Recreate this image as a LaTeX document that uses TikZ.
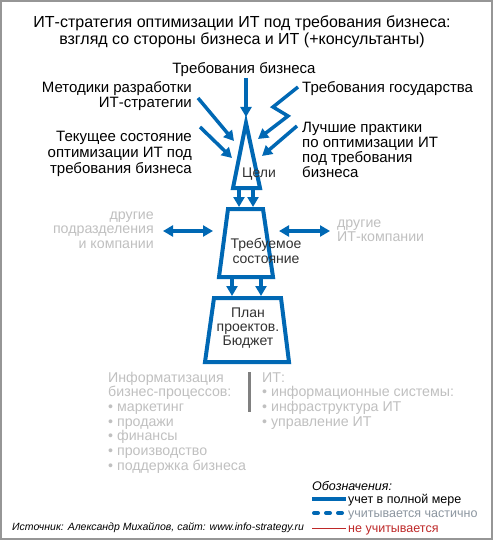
\documentclass[tikz,border=0pt]{standalone}
\usepackage{fontspec}
\setmainfont{Liberation Sans}
\usetikzlibrary{arrows.meta}
\definecolor{cblue}{RGB}{0,104,180}
\definecolor{cgray}{RGB}{192,192,192}
\definecolor{cbar}{RGB}{128,128,128}
\definecolor{cdark}{RGB}{50,50,50}
\definecolor{cred}{RGB}{190,40,40}
\definecolor{cleg}{RGB}{140,150,160}
\definecolor{cframe}{RGB}{150,150,150}
\begin{document}
\begin{tikzpicture}[x=1pt,y=-1pt,
  lbl/.style={inner sep=0pt, font=\fontsize{15}{16}\selectfont},
  ttl/.style={inner sep=0pt, font=\fontsize{16}{17}\selectfont},
  inb/.style={inner sep=0pt, text=cdark, font=\fontsize{14}{15}\selectfont},
  gry/.style={inner sep=0pt, text=cgray, font=\fontsize{14.2}{15}\selectfont},
  leg/.style={inner sep=0pt, font=\fontsize{12.5}{14}\selectfont},
  src/.style={inner sep=0pt, font=\fontsize{10.5}{12}\selectfont\itshape},
  arr/.style={draw=cblue, line width=3.5pt, -{Triangle[length=10pt,width=11pt]}},
  darr/.style={draw=cblue, line width=3.5pt, {Triangle[length=10pt,width=11pt]}-{Triangle[length=10pt,width=11pt]}},
  shp/.style={draw=cblue, line width=4pt, line join=miter},
  frm/.style={draw=cframe, line width=2pt}
]
\useasboundingbox (0,0) rectangle (493,540);
\fill[white] (0,0) rectangle (493,540);
\draw[frm] (1,1) rectangle (492,539);

% title
\node[ttl, anchor=base] (title1) at (242,27.5) {ИТ-стратегия оптимизации ИТ под требования бизнеса:};
\node[ttl, anchor=base] (title2) at (242,44.5) {взгляд со стороны бизнеса и ИТ (+консультанты)};

% shapes coordinates
\coordinate (ta) at (246,123);
\coordinate (tl) at (233,188);
\coordinate (tr) at (260,188);
\coordinate (p1tl) at (228,209);
\coordinate (p1tr) at (263,209);
\coordinate (p1br) at (273,277);
\coordinate (p1bl) at (219,277);
\coordinate (p2tl) at (214,298);
\coordinate (p2tr) at (281,298);
\coordinate (p2br) at (289,362);
\coordinate (p2bl) at (205,362);

\draw[shp] (ta) -- (tr) -- (tl) -- cycle;
\draw[shp] (p1tl) -- (p1tr) -- (p1br) -- (p1bl) -- cycle;
\draw[shp] (p2tl) -- (p2tr) -- (p2br) -- (p2bl) -- cycle;

% inner texts
\node[inb, anchor=base] (goal) at (259,178) {Цели};
\node[inb, anchor=base] (req1) at (266,248) {Требуемое};
\node[inb, anchor=base] (req2) at (266,263) {состояние};
\node[inb, anchor=base] (plan1) at (248,317) {План};
\node[inb, anchor=base] (plan2) at (248,331) {проектов.};
\node[inb, anchor=base] (plan3) at (248,345) {Бюджет};

% top labels
\node[lbl, anchor=base] (rb) at (244,74) {Требования бизнеса};
\node[lbl, anchor=base east] (m1) at (192,93) {Методики разработки};
\node[lbl, anchor=base east] (m2) at (192,108) {ИТ-стратегии};
\node[lbl, anchor=base west] (g1) at (302,93) {Требования государства};
\node[lbl, anchor=base east] (c1) at (192,142) {Текущее состояние};
\node[lbl, anchor=base east] (c2) at (192,157.5) {оптимизации ИТ под};
\node[lbl, anchor=base east] (c3) at (192,173) {требования бизнеса};
\node[lbl, anchor=base west] (b1) at (302,133) {Лучшие практики};
\node[lbl, anchor=base west] (b2) at (302,148) {по оптимизации ИТ};
\node[lbl, anchor=base west] (b3) at (302,163) {под требования};
\node[lbl, anchor=base west] (b4) at (302,178) {бизнеса};

% input arrows
\coordinate (a1s) at (246,78);  \coordinate (a1e) at (246,117);
\coordinate (a2s) at (198,98);  \coordinate (a2e) at (234,141);
\coordinate (a3s) at (200,127); \coordinate (a3e) at (232,158);
\coordinate (g0) at (298,87); \coordinate (gz1) at (273,107); \coordinate (gz2) at (288,116); \coordinate (g3) at (258,139);
\coordinate (a5s) at (297,126); \coordinate (a5e) at (262,156);
\draw[arr] (a1s) -- (a1e);
\draw[arr] (a2s) -- (a2e);
\draw[arr] (a3s) -- (a3e);
\draw[arr] (g0) -- (gz1) -- (gz2) -- (g3);
\draw[arr] (a5s) -- (a5e);

% arrows between shapes
\coordinate (d1s) at (239,188); \coordinate (d1e) at (239,207);
\coordinate (d2s) at (253,188); \coordinate (d2e) at (253,207);
\coordinate (d3s) at (232,277); \coordinate (d3e) at (232,296);
\coordinate (d4s) at (261,277); \coordinate (d4e) at (261,296);
\draw[arr] (d1s) -- (d1e);
\draw[arr] (d2s) -- (d2e);
\draw[arr] (d3s) -- (d3e);
\draw[arr] (d4s) -- (d4e);

% side double arrows
\coordinate (hl1) at (163,231); \coordinate (hl2) at (213,231);
\coordinate (hr1) at (279,231); \coordinate (hr2) at (330,231);
\draw[darr] (hl1) -- (hl2);
\draw[darr] (hr1) -- (hr2);

% side gray texts
\node[gry, anchor=base east] (o1) at (154,219) {другие};
\node[gry, anchor=base east] (o2) at (154,233.5) {подразделения};
\node[gry, anchor=base east] (o3) at (154,248) {и компании};
\node[gry, anchor=base west] (i1) at (337,227) {другие};
\node[gry, anchor=base west] (i2) at (337,241.5) {ИТ-компании};

% bottom lists
\node[gry, anchor=base west] (l1) at (108,382) {Информатизация};
\node[gry, anchor=base west] (l2) at (108,396.7) {бизнес-процессов:};
\node[gry, anchor=base west] (l3) at (108,411.4) {• маркетинг};
\node[gry, anchor=base west] (l4) at (108,426.1) {• продажи};
\node[gry, anchor=base west] (l5) at (108,440.8) {• финансы};
\node[gry, anchor=base west] (l6) at (108,455.5) {• производство};
\node[gry, anchor=base west] (l7) at (108,470.2) {• поддержка бизнеса};
\coordinate (bar1) at (249,372); \coordinate (bar2) at (249,412);
\draw[draw=cbar, line width=3pt] (bar1) -- (bar2);
\node[gry, anchor=base west] (r1) at (262,382) {ИТ:};
\node[gry, anchor=base west] (r2) at (262,396.7) {• информационные системы:};
\node[gry, anchor=base west] (r3) at (262,411.4) {• инфраструктура ИТ};
\node[gry, anchor=base west] (r4) at (262,426.1) {• управление ИТ};

% legend
\node[leg, anchor=base west, font=\fontsize{12.5}{14}\selectfont\itshape] (lg0) at (312,490) {Обозначения:};
\coordinate (s1a) at (312,499); \coordinate (s1b) at (346,499);
\coordinate (s2a) at (314,513); \coordinate (s2b) at (346,513);
\coordinate (s3a) at (312,528); \coordinate (s3b) at (346,528);
\draw[draw=cblue, line width=3.5pt] (s1a) -- (s1b);
\draw[draw=cblue, line width=4pt, line cap=round, dash pattern=on 4pt off 8pt] (s2a) -- (s2b);
\draw[draw=cred, line width=1pt] (s3a) -- (s3b);
\node[leg, anchor=base west] (lg1) at (348,503.5) {учет в полной мере};
\node[leg, anchor=base west, text=cleg] (lg2) at (348,517.5) {учитывается частично};
\node[leg, anchor=base west, text=cred] (lg3) at (348,532) {не учитывается};

% source
\node[src, anchor=base west] (source) at (12,530) {Источник: Александр Михайлов, сайт: www.info-strategy.ru};
\end{tikzpicture}
\end{document}
